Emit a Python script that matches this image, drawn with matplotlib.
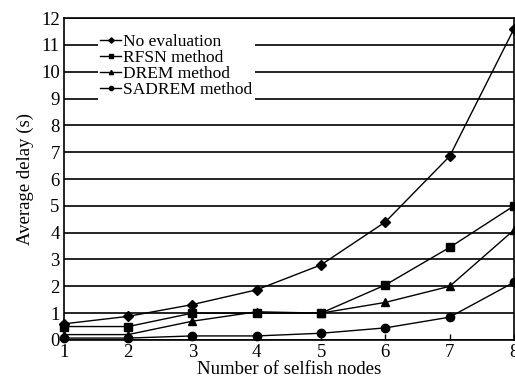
import matplotlib.pyplot as plt

# Dados
nodes = [1, 2, 3, 4, 5, 6, 7, 8]
no_eval = [0.6, 0.88, 1.32, 1.87, 2.8, 4.4, 6.85, 11.6]
rfsn = [0.5, 0.5, 1.0, 1.0, 1.0, 2.05, 3.45, 5.0]
drem = [0.2, 0.2, 0.7, 1.05, 1.0, 1.4, 2.0, 4.1]
sadrem = [0.07, 0.07, 0.15, 0.15, 0.25, 0.45, 0.85, 2.15]

labels = ['No evaluation', 'RFSN method', 'DREM method', 'SADREM method']
markers = ['D', 's', '^', 'o']

plt.rcParams['font.family'] = ['Liberation Serif', 'DejaVu Serif']
fs = 13.5

fig = plt.figure(figsize=(5.15, 3.85), dpi=100)
ax = fig.add_axes([0.124, 0.117, 0.874, 0.836])

for ys, lab, mk in zip([no_eval, rfsn, drem, sadrem], labels, markers):
    ax.plot(nodes, ys, color='black', lw=1.0, marker=mk, markersize=6 if mk != 'D' else 5.5,
            label=lab, clip_on=False, zorder=3)

ax.set_xlim(1, 8)
ax.set_ylim(0, 12)
ax.set_xticks(nodes)
ax.set_yticks(range(0, 13))
ax.yaxis.grid(True, color='black', lw=1.2)
ax.set_axisbelow(True)
ax.tick_params(direction='in', length=4, width=1, labelsize=fs, pad=3)
ax.tick_params(axis='y', length=0, pad=3)
for s in ax.spines.values():
    s.set_linewidth(1.2)

ax.set_xlabel('Number of selfish nodes', fontsize=fs, labelpad=0)
ax.set_ylabel('Average delay (s)', fontsize=fs, labelpad=5)

# Legenda sem borda, fundo branco por cima das linhas de grade
leg = ax.legend(loc='upper left', bbox_to_anchor=(0.075, 0.96), borderaxespad=0,
                frameon=True, fancybox=False, edgecolor='none', facecolor='white', framealpha=1,
                fontsize=12.5, handlelength=1.2, handletextpad=0.1, labelspacing=0.0,
                borderpad=0.15, markerscale=0.5)

fig.savefig('out.png', dpi=100)
